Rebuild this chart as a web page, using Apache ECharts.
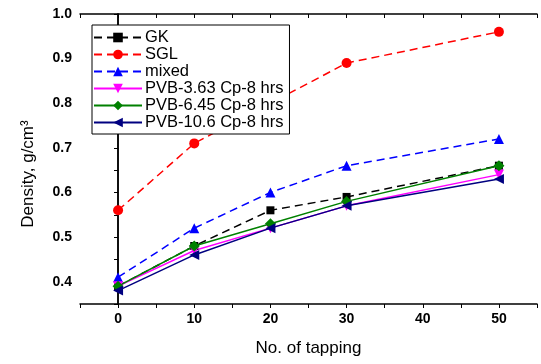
<!DOCTYPE html>
<html>
<head>
<meta charset="utf-8">
<script src="https://cdn.jsdelivr.net/npm/echarts@6/dist/echarts.min.js"></script>
<style>
  html, body { margin: 0; padding: 0; background: #fff; }
  #chart { width: 541px; height: 364px; }
</style>
</head>
<body>
<div id="chart"></div>
<script>
// tapping counts
const taps = [0, 10, 20, 30, 50];

// densities, g/cm3
const gk = [0.39, 0.48, 0.56, 0.59, 0.66];
const sgl = [0.56, 0.71, 0.80, 0.89, 0.96];
const mixed = [0.41, 0.52, 0.60, 0.66, 0.72];
const pvb363 = [0.39, 0.47, 0.52, 0.57, 0.64];
const pvb645 = [0.39, 0.48, 0.53, 0.58, 0.66];
const pvb106 = [0.38, 0.46, 0.52, 0.57, 0.63];

const seriesDefs = [
  { name: "GK", data: gk, color: "#000000", symbol: "rect", rotate: 0, dashed: true },
  { name: "SGL", data: sgl, color: "#ff0000", symbol: "circle", rotate: 0, dashed: true },
  { name: "mixed", data: mixed, color: "#0000ff", symbol: "triangle", rotate: 0, dashed: true },
  { name: "PVB-3.63 Cp-8 hrs", data: pvb363, color: "#ff00ff", symbol: "triangle", rotate: 180, dashed: false },
  { name: "PVB-6.45 Cp-8 hrs", data: pvb645, color: "#008000", symbol: "diamond", rotate: 0, dashed: false },
  { name: "PVB-10.6 Cp-8 hrs", data: pvb106, color: "#000080", symbol: "triangle", rotate: 90, dashed: false },
];

const font = "'Liberation Sans', Arial, sans-serif";

const chart = echarts.init(document.getElementById("chart"), null, { renderer: "canvas" });

const frameAxis = {
  axisLine: { show: true, lineStyle: { color: "#000", width: 1.5 } },
  axisTick: { show: true, inside: true, length: 4, lineStyle: { color: "#000" } },
  axisLabel: { show: false },
  splitLine: { show: false },
};

chart.setOption({
  animation: false,
  backgroundColor: "#fff",
  grid: { left: 80, right: 4, top: 14, bottom: 60, containLabel: false },
  legend: {
    orient: "vertical",
    left: 92,
    top: 25,
    padding: [4, 6, 3, 1],
    itemWidth: 48,
    itemHeight: 12,
    itemGap: 0,
    borderColor: "#000",
    borderWidth: 1,
    borderRadius: 0,
    backgroundColor: "#fff",
    z: 10,
    textStyle: { fontFamily: font, fontSize: 16.5, lineHeight: 17, color: "#000", padding: [0, 0, 0, -2] },
    data: seriesDefs.map((s) => s.name),
  },
  xAxis: [
    {
      type: "value",
      min: -5,
      max: 55,
      interval: 5,
      name: "No. of tapping",
      nameLocation: "middle",
      nameGap: 36,
      nameTextStyle: { fontFamily: font, fontSize: 17, color: "#000" },
      axisLine: { lineStyle: { color: "#000", width: 1.5 } },
      axisTick: { inside: false, length: 4, lineStyle: { color: "#000" } },
      axisLabel: {
        margin: 8,
        fontFamily: font,
        fontSize: 14,
        fontWeight: "bold",
        color: "#000",
        formatter: (v) => (Math.abs(v % 10) < 1e-6 && v >= 0 && v <= 50 ? String(v) : ""),
      },
      splitLine: { show: false },
    },
    Object.assign({ type: "value", position: "top", min: -5, max: 55, interval: 5 }, frameAxis),
  ],
  yAxis: [
    {
      type: "value",
      min: 0.35,
      max: 1.0,
      interval: 0.05,
      name: "Density, g/cm³",
      nameLocation: "middle",
      nameGap: 43,
      nameTextStyle: { fontFamily: font, fontSize: 17, color: "#000", padding: [0, 0, 0, -30] },
      axisLine: { lineStyle: { color: "#000", width: 1.5 } },
      axisTick: { inside: false, length: 4, lineStyle: { color: "#000" } },
      axisLabel: {
        margin: 8,
        fontFamily: font,
        fontSize: 14,
        fontWeight: "bold",
        color: "#000",
        formatter: (v) => {
          const k = Math.round(v * 100);
          return k % 10 === 0 ? (k / 100).toFixed(1) : "";
        },
      },
      splitLine: { show: false },
    },
    Object.assign({ type: "value", position: "right", min: 0.35, max: 1.0, interval: 0.05 }, frameAxis),
  ],
  series: seriesDefs.map((s) => ({
    name: s.name,
    type: "line",
    data: taps.map((t, i) => [t, s.data[i]]),
    symbol: s.symbol,
    symbolSize: s.symbol === "rect" ? 8 : s.symbol === "diamond" ? 11 : 10,
    symbolRotate: s.rotate,
    showAllSymbol: true,
    color: s.color,
    itemStyle: { color: s.color },
    lineStyle: { color: s.color, width: 1.5, type: s.dashed ? [8, 5] : "solid" },
  })),
});
</script>
</body>
</html>
